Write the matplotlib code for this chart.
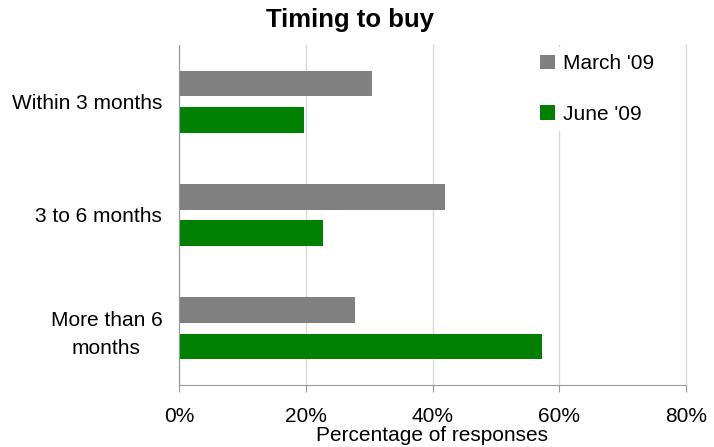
import matplotlib
matplotlib.use("Agg")
import matplotlib.pyplot as plt
import matplotlib.ticker as mticker
from matplotlib.patches import Patch
import numpy as np

plt.rcParams['font.family'] = ['Liberation Sans', 'DejaVu Sans']

categories = ['Within 3 months', '3 to 6 months', 'More than 6\nmonths']
march = [30.5, 41.9, 27.7]
june = [19.8, 22.8, 57.3]
series_labels = ["March '09", "June '09"]
colors = ['#808080', '#008000']

y = np.arange(len(categories))  # category positions
h = 0.228  # bar height
off = 0.16

fig = plt.figure(figsize=(7.14, 4.47), dpi=100)
ax = fig.add_axes([179 / 714, 1 - 385 / 447, 507 / 714, 340 / 447])

ax.barh(y - off, march, h, color=colors[0], zorder=2)
ax.barh(y + off, june, h, color=colors[1], zorder=2)

ax.set_xlim(0, 80)
ax.set_ylim(len(categories) - 0.5, -0.5)
ax.set_xticks([0, 20, 40, 60, 80])
ax.xaxis.set_major_formatter(mticker.FuncFormatter(lambda v, p: f'{v:.0f}%'))
ax.set_yticks(y)
ax.set_yticklabels(categories, multialignment='center', linespacing=1.55)

ax.grid(axis='x', color='#d9d9d9', linewidth=1, zorder=0)
for line in ax.get_xgridlines():
    line.set_clip_on(False)
for s in ['top', 'right']:
    ax.spines[s].set_visible(False)
ax.spines['left'].set_color('#999999')
ax.spines['bottom'].set_color('#999999')
ax.tick_params(axis='x', length=5, color='#999999', pad=11, labelsize=15)
ax.tick_params(axis='y', length=0, pad=12, labelsize=15)

ax.set_xlabel('Percentage of responses', fontsize=15, labelpad=-0.5)
fig.text(0.49, 0.955, 'Timing to buy', ha='center', va='center',
         fontsize=18.5, fontweight='bold')

handles = [Patch(facecolor=c, edgecolor='none') for c in colors]
leg = ax.legend(handles, series_labels, loc='upper left',
                bbox_to_anchor=(533 / 714, 1 - 47 / 447),
                bbox_transform=fig.transFigure, fontsize=15,
                handlelength=0.72, handleheight=0.72, handletextpad=0.35,
                labelspacing=1.5, borderpad=0.35, borderaxespad=0,
                frameon=True, fancybox=False, framealpha=1,
                edgecolor='none', facecolor='white')
leg.set_zorder(5)

fig.savefig('out.png', dpi=100)
